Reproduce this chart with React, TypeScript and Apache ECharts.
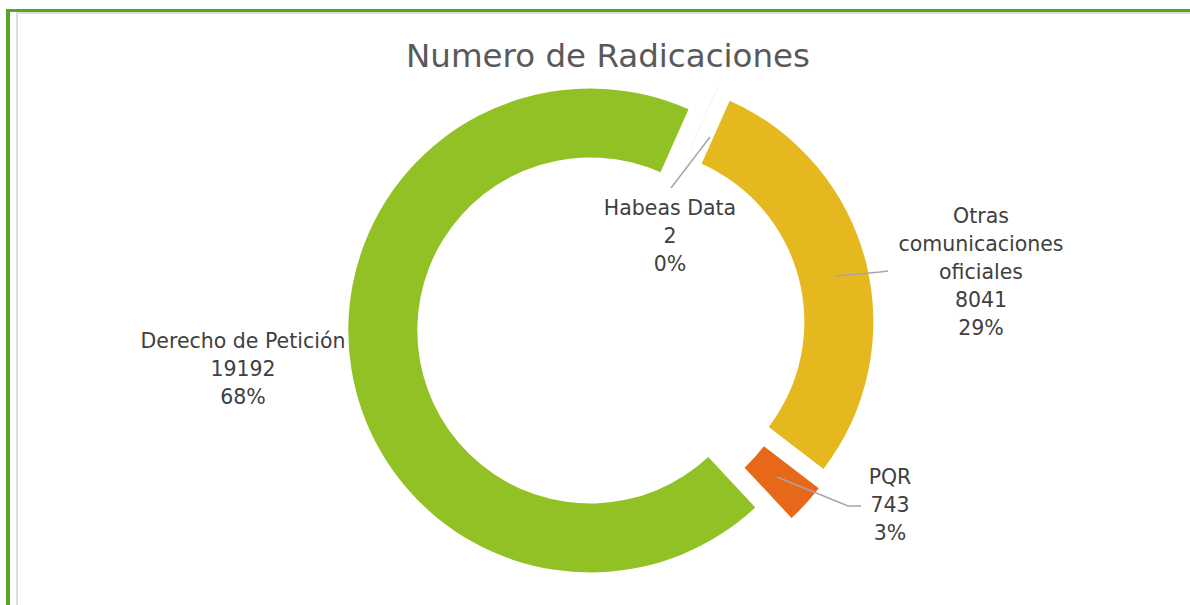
import React, { useEffect, useRef } from "react";
import * as echarts from "echarts";

const categories = ["Derecho de Petición", "Habeas Data", "Otras comunicaciones oficiales", "PQR"];
const labelNames = ["Derecho de Petición", "Habeas Data", "Otras\ncomunicaciones\noficiales", "PQR"];
const values = [19192, 2, 8041, 743];
const colors = ["#92C125", "#6E9A1E", "#E5B81F", "#E8681A"];

// manual label placement (as in the original chart)
const labelPos: number[][] = [
  [243, 369],
  [670, 236],
  [981, 272],
  [890, 505],
];
const leaderPts: number[][][] = [
  [],
  [[710, 137], [671, 188]],
  [[836, 276], [880, 272], [888, 271]],
  [[777, 477], [848, 506], [861, 506]],
];

// whole-number percentages, largest remainder (same as Excel/ECharts display)
function percents(vals: number[]): number[] {
  const total = vals.reduce((a, b) => a + b, 0);
  const raw = vals.map((v) => (v / total) * 100);
  const fl = raw.map((r) => Math.floor(r));
  let left = 100 - fl.reduce((a, b) => a + b, 0);
  const order = raw.map((r, i) => [r - Math.floor(r), i]).sort((a, b) => b[0] - a[0]);
  for (let k = 0; k < left; k++) fl[order[k][1]] += 1;
  return fl;
}

export default function App() {
  const ref = useRef<HTMLDivElement>(null);
  useEffect(() => {
    if (!ref.current) return;
    document.body.style.margin = "0";
    const chart = echarts.init(ref.current, null, { renderer: "svg" });
    const font = "'DejaVu Sans', sans-serif";
    const pct = percents(values);
    const labelGraphics: any[] = [];
    categories.forEach((_, i) => {
      if (leaderPts[i].length) {
        labelGraphics.push({
          type: "polyline",
          silent: true,
          z: 100,
          shape: { points: leaderPts[i] },
          style: { stroke: "#A6A6A6", lineWidth: 1.5, fill: null },
        });
      }
      labelGraphics.push({
        type: "text",
        silent: true,
        z: 100,
        x: labelPos[i][0],
        y: labelPos[i][1],
        style: {
          text: `${labelNames[i]}\n${values[i]}\n${pct[i]}%`,
          fill: "#404040",
          fontFamily: font,
          fontSize: 20.5,
          lineHeight: 28,
          align: "center",
          verticalAlign: "middle",
        },
      });
    });
    chart.setOption({
      animation: false,
      backgroundColor: "#ffffff",
      graphic: [
        { type: "rect", shape: { x: 6, y: 9, width: 1184, height: 3 }, style: { fill: "#5BA323" }, silent: true },
        { type: "rect", shape: { x: 6, y: 9, width: 4, height: 596 }, style: { fill: "#5BA323" }, silent: true },
        { type: "rect", shape: { x: 16, y: 12, width: 1174, height: 2 }, style: { fill: "#DCDCDC" }, silent: true },
        { type: "rect", shape: { x: 16, y: 12, width: 2, height: 593 }, style: { fill: "#DCDCDC" }, silent: true },
        {
          type: "text",
          x: 608,
          y: 56,
          silent: true,
          style: {
            text: "Numero de Radicaciones",
            fill: "#595959",
            fontFamily: font,
            fontSize: 32.5,
            align: "center",
            verticalAlign: "middle",
          },
        },
        ...labelGraphics,
      ],
      series: [
        {
          type: "pie",
          z: 2,
          center: [611, 327],
          radius: [173, 242],
          startAngle: -47,
          clockwise: true,
          selectedMode: "multiple",
          selectedOffset: 21,
          avoidLabelOverlap: false,
          emphasis: { disabled: true },
          silent: true,
          label: { show: false },
          labelLine: { show: false },
          data: categories.map((name, i) => ({
            name,
            value: values[i],
            selected: true,
            itemStyle: { color: colors[i] },
            select: { itemStyle: { color: colors[i], borderWidth: 0 } },
          })),
        },
      ],
    });
    return () => chart.dispose();
  }, []);
  return <div ref={ref} style={{ position: "fixed", left: 0, top: 0, width: 1190, height: 605 }} />;
}
